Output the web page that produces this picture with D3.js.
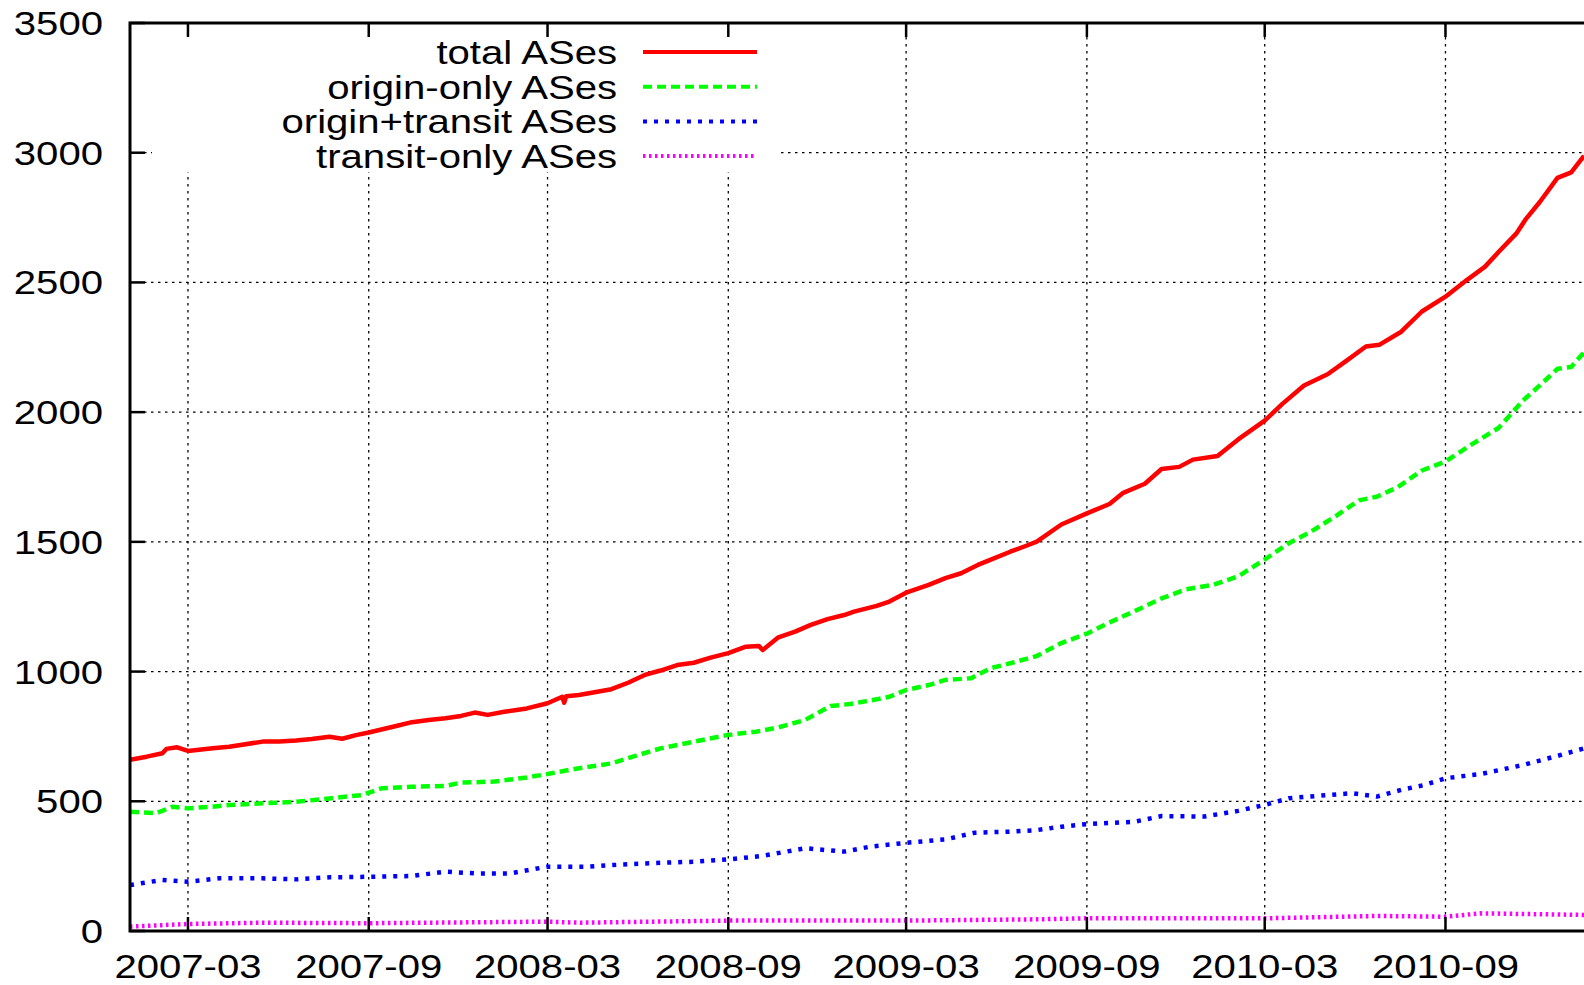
<!DOCTYPE html>
<html>
<head>
<meta charset="utf-8">
<script src="https://cdn.jsdelivr.net/npm/d3@7"></script>
<style>
  body { margin: 0; background: #fff; }
  svg { display: block; }
  text { font-family: "Liberation Sans", Arial, Helvetica, sans-serif; fill: #000; }
</style>
</head>
<body>
<div id="chart"></div>
<script>
// values
var totalDates = ["2007-01-01","2007-01-18","2007-02-03","2007-02-07","2007-02-18","2007-03-01","2007-03-26","2007-04-12","2007-05-16","2007-06-02","2007-06-19","2007-07-05","2007-07-23","2007-08-05","2007-08-19","2007-09-01","2007-09-29","2007-10-15","2007-11-01","2007-11-18","2007-12-04","2007-12-18","2007-12-31","2008-01-17","2008-02-09","2008-03-01","2008-03-16","2008-03-18","2008-03-20","2008-04-02","2008-05-05","2008-05-22","2008-06-08","2008-06-24","2008-07-11","2008-07-28","2008-08-14","2008-09-01","2008-09-19","2008-10-02","2008-10-06","2008-10-22","2008-11-08","2008-11-24","2008-12-11","2008-12-28","2009-01-07","2009-01-30","2009-02-12","2009-03-01","2009-03-24","2009-04-10","2009-04-26","2009-05-13","2009-05-30","2009-06-15","2009-07-02","2009-07-12","2009-08-06","2009-09-01","2009-09-24","2009-10-08","2009-10-30","2009-11-16","2009-12-04","2009-12-18","2010-01-12","2010-02-02","2010-03-01","2010-03-19","2010-04-10","2010-05-04","2010-05-22","2010-06-12","2010-06-26","2010-07-18","2010-08-08","2010-09-01","2010-09-23","2010-10-11","2010-10-25","2010-11-12","2010-11-22","2010-12-06","2010-12-24","2011-01-07","2011-01-20"];
var totalValues = [660,672,685,702,708,694,704,710,730,730,734,740,749,741,755,765,790,805,813,820,829,842,833,845,858,878,903,880,905,910,932,957,987,1004,1025,1034,1054,1071,1096,1099,1083,1132,1154,1180,1202,1218,1231,1253,1270,1304,1334,1360,1379,1411,1437,1462,1486,1501,1567,1610,1646,1689,1724,1781,1789,1817,1831,1895,1967,2032,2103,2146,2195,2253,2260,2310,2388,2445,2510,2560,2617,2688,2745,2810,2903,2924,2988];

var originDates = ["2007-01-01","2007-01-28","2007-02-13","2007-03-01","2007-03-26","2007-04-12","2007-05-16","2007-06-19","2007-07-23","2007-08-25","2007-09-14","2007-10-15","2007-11-18","2007-12-04","2008-01-07","2008-02-09","2008-03-01","2008-03-23","2008-04-02","2008-05-05","2008-06-01","2008-06-24","2008-07-28","2008-09-01","2008-09-29","2008-10-22","2008-11-18","2008-12-14","2009-01-03","2009-01-30","2009-02-12","2009-03-01","2009-03-24","2009-04-10","2009-05-06","2009-05-26","2009-06-15","2009-07-12","2009-08-06","2009-09-01","2009-09-24","2009-10-19","2009-11-16","2009-12-11","2010-01-08","2010-02-02","2010-03-01","2010-03-26","2010-04-17","2010-05-11","2010-06-05","2010-06-23","2010-07-14","2010-08-08","2010-09-01","2010-09-27","2010-10-25","2010-11-19","2010-12-06","2010-12-24","2011-01-07","2011-01-20"];
var originValues = [460,454,479,473,479,486,492,498,511,524,550,556,559,572,576,592,605,621,627,646,678,704,730,756,768,785,813,867,875,893,903,929,948,968,974,1013,1032,1060,1110,1146,1189,1232,1282,1317,1335,1367,1432,1496,1539,1596,1660,1674,1710,1775,1810,1874,1939,2045,2103,2167,2174,2231];

var bothDates = ["2007-01-01","2007-02-03","2007-03-01","2007-04-02","2007-05-16","2007-06-19","2007-07-23","2007-09-01","2007-10-15","2007-11-18","2007-12-18","2008-01-23","2008-03-01","2008-04-12","2008-05-05","2008-06-24","2008-07-28","2008-09-01","2008-10-05","2008-11-18","2008-12-28","2009-01-23","2009-03-01","2009-04-10","2009-05-10","2009-06-15","2009-07-12","2009-08-06","2009-09-01","2009-10-19","2009-11-16","2009-12-29","2010-02-02","2010-03-01","2010-03-26","2010-05-04","2010-05-29","2010-06-23","2010-07-18","2010-08-11","2010-09-01","2010-10-07","2010-11-19","2010-12-24","2011-01-20"];
var bothValues = [177,197,190,203,203,199,207,209,212,229,222,222,248,248,254,263,267,276,289,319,306,325,340,353,379,383,389,402,412,421,443,441,463,486,512,524,531,518,544,563,589,605,640,675,704];

var transitDates = ["2007-01-01","2007-03-01","2007-05-16","2007-09-01","2007-12-01","2008-03-01","2008-04-02","2008-09-01","2009-03-01","2009-07-12","2009-09-01","2010-03-01","2010-06-23","2010-09-01","2010-10-07","2011-01-20"];
var transitValues = [17,27,32,30,33,36,32,40,40,45,49,49,58,55,68,62];

var seriesNames = ["total ASes", "origin-only ASes", "origin+transit ASes", "transit-only ASes"];
var seriesColors = ["#ff0000", "#00ff00", "#0000ff", "#ff00ff"];
var seriesDash = ["none", "9,5", "4,7", "2.5,3.5"];

var yTicks = [0, 500, 1000, 1500, 2000, 2500, 3000, 3500];
var xTickLabels = ["2007-03", "2007-09", "2008-03", "2008-09", "2009-03", "2009-09", "2010-03", "2010-09"];

var parseDay = d3.timeParse("%Y-%m-%d");
var parseMonth = d3.timeParse("%Y-%m");

function pairs(dates, values) {
  return dates.map(function(d, i) { return { date: parseDay(d), value: values[i] }; });
}
var series = [
  pairs(totalDates, totalValues),
  pairs(originDates, originValues),
  pairs(bothDates, bothValues),
  pairs(transitDates, transitValues)
];

// plot box (the picture is cut at the right edge)
var W = 1584, H = 985;
var box = {left: 130, right: 1584, top: 23, bottom: 931};
var sx = 1.18;   // gnuplot text looks horizontally stretched
var fontSize = "34px";

var svg = d3.select("#chart").append("svg")
  .attr("width", W).attr("height", H);

var x = d3.scaleTime()
  .domain([parseDay("2007-01-01"), parseDay("2011-01-20")])
  .range([box.left, box.right]);

var y = d3.scaleLinear()
  .domain([0, 3500])
  .range([box.bottom, box.top]);

// grid
var grid = svg.append("g")
  .attr("stroke", "#000")
  .attr("stroke-width", 1.3)
  .attr("stroke-dasharray", "2.5,4.5");

grid.selectAll(".gy").data(yTicks.slice(1, -1)).enter().append("line")
  .attr("x1", box.left).attr("x2", box.right)
  .attr("y1", function(d) { return y(d); })
  .attr("y2", function(d) { return y(d); });

grid.selectAll(".gx").data(xTickLabels).enter().append("line")
  .attr("x1", function(d) { return x(parseMonth(d)); })
  .attr("x2", function(d) { return x(parseMonth(d)); })
  .attr("y1", box.top).attr("y2", box.bottom);

// legend box blanks out the grid behind it
svg.append("rect")
  .attr("x", 152).attr("y", box.top + 2)
  .attr("width", 781 - 152).attr("height", 172 - box.top - 2)
  .attr("fill", "#fff");

// lines
svg.append("clipPath").attr("id", "plotclip")
  .append("rect")
  .attr("x", box.left).attr("y", box.top)
  .attr("width", box.right - box.left).attr("height", box.bottom - box.top);

var line = d3.line()
  .x(function(d) { return x(d.date); })
  .y(function(d) { return y(d.value); });

var plot = svg.append("g").attr("clip-path", "url(#plotclip)");

// draw bottom series first so red sits on top
for (var i = series.length - 1; i >= 0; i--) {
  plot.append("path")
    .datum(series[i])
    .attr("fill", "none")
    .attr("stroke", seriesColors[i])
    .attr("stroke-width", 4.5)
    .attr("stroke-linejoin", "round")
    .attr("stroke-dasharray", seriesDash[i])
    .attr("d", line);
}

// border and ticks
var axes = svg.append("g").attr("stroke", "#000");

axes.append("path")
  .attr("fill", "none")
  .attr("stroke-width", 3)
  .attr("d", "M" + box.right + "," + box.top + "H" + box.left + "V" + box.bottom + "H" + box.right);

axes.selectAll(".ty").data(yTicks).enter().append("line")
  .attr("stroke-width", 2.5)
  .attr("x1", box.left).attr("x2", box.left + 15)
  .attr("y1", function(d) { return y(d); })
  .attr("y2", function(d) { return y(d); });

xTickLabels.forEach(function(t) {
  var px = x(parseMonth(t));
  axes.append("line").attr("stroke-width", 2.5)
    .attr("x1", px).attr("x2", px).attr("y1", box.bottom).attr("y2", box.bottom - 14);
  axes.append("line").attr("stroke-width", 2.5)
    .attr("x1", px).attr("x2", px).attr("y1", box.top).attr("y2", box.top + 14);
});

// tick labels
svg.selectAll(".ly").data(yTicks).enter().append("text")
  .attr("transform", function(d) { return "translate(103," + (y(d) + 12) + ") scale(" + sx + ",1)"; })
  .attr("text-anchor", "end")
  .style("font-size", fontSize)
  .text(function(d) { return d; });

svg.selectAll(".lx").data(xTickLabels).enter().append("text")
  .attr("transform", function(d) { return "translate(" + x(parseMonth(d)) + "," + (box.bottom + 47) + ") scale(" + sx + ",1)"; })
  .attr("text-anchor", "middle")
  .style("font-size", fontSize)
  .text(function(d) { return d; });

// legend
var legend = svg.append("g");
seriesNames.forEach(function(name, i) {
  var ly = 52 + i * 34.7;
  legend.append("text")
    .attr("transform", "translate(617," + (ly + 12) + ") scale(" + sx + ",1)")
    .attr("text-anchor", "end")
    .style("font-size", fontSize)
    .text(name);
  legend.append("line")
    .attr("x1", 643).attr("x2", 757)
    .attr("y1", ly).attr("y2", ly)
    .attr("stroke", seriesColors[i])
    .attr("stroke-width", 4)
    .attr("stroke-dasharray", seriesDash[i]);
});
</script>
</body>
</html>
